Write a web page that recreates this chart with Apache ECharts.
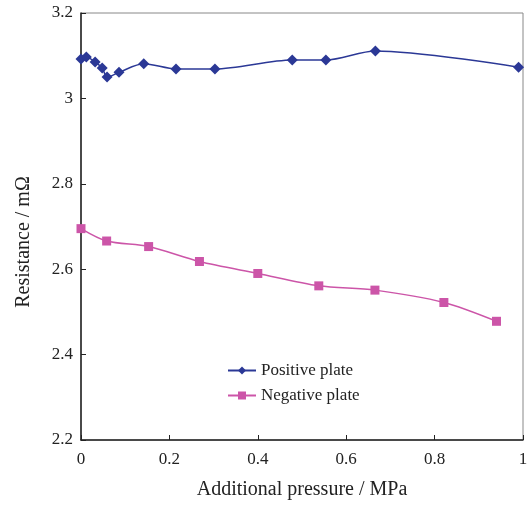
<!DOCTYPE html>
<html><head><meta charset="utf-8">
<script src="https://cdn.jsdelivr.net/npm/echarts@6/dist/echarts.min.js"></script>
<style>html,body{margin:0;padding:0;background:#fff}#c{width:531px;height:505px}</style>
</head><body><div id="c"></div>
<script>
const posX = [0, 0.012, 0.032, 0.048, 0.059, 0.086, 0.142, 0.215, 0.303, 0.478, 0.554, 0.666, 0.99];
const posY = [3.092, 3.097, 3.085, 3.071, 3.050, 3.061, 3.081, 3.069, 3.069, 3.090, 3.090, 3.111, 3.073];
const negX = [0, 0.058, 0.153, 0.268, 0.400, 0.538, 0.665, 0.821, 0.940];
const negY = [2.695, 2.666, 2.653, 2.618, 2.590, 2.561, 2.551, 2.522, 2.478];
const seriesNames = ["Positive plate", "Negative plate"];
const xTitle = "Additional pressure / MPa";
const yTitle = "Resistance / mΩ";

const font = "Liberation Serif";
const chart = echarts.init(document.getElementById('c'), null, {renderer: 'canvas'});
chart.setOption({
  animation: false,
  backgroundColor: '#fff',
  grid: {left: 81, right: 8, top: 13, bottom: 64, show: true, borderColor: '#888', borderWidth: 1},
  legend: {
    left: 222, top: 357, orient: 'vertical', itemGap: 8, itemWidth: 28, itemHeight: 10,
    textStyle: {fontFamily: font, fontSize: 17, color: '#222'},
    data: seriesNames
  },
  graphic: [{
    type: 'text', x: 24, y: 242, rotation: Math.PI / 2,
    style: {text: yTitle, fontFamily: font, fontSize: 20, fill: '#222', align: 'center', verticalAlign: 'middle'}
  }],
  xAxis: {
    type: 'value', min: 0, max: 1, interval: 0.2,
    name: xTitle, nameLocation: 'middle', nameGap: 40,
    nameTextStyle: {fontFamily: font, fontSize: 20, color: '#222'},
    axisLine: {lineStyle: {color: '#222', width: 1.5}},
    axisTick: {inside: true, length: 5, lineStyle: {color: '#222'}},
    axisLabel: {fontFamily: font, fontSize: 17, color: '#222', margin: 11},
    splitLine: {show: false}
  },
  yAxis: {
    type: 'value', min: 2.2, max: 3.2, interval: 0.2,
    axisLine: {show: true, lineStyle: {color: '#222', width: 1.5}},
    axisTick: {show: true, inside: true, length: 5, lineStyle: {color: '#222'}},
    axisLabel: {fontFamily: font, fontSize: 17, color: '#222', margin: 8,
      formatter: v => (Math.round(v * 10) / 10).toString()},
    splitLine: {show: false}
  },
  series: [
    {
      name: seriesNames[0], type: 'line', smooth: 0.3,
      data: posX.map((x, i) => [x, posY[i]]),
      symbol: 'diamond', symbolSize: 11,
      lineStyle: {color: '#2B3896', width: 1.5},
      itemStyle: {color: '#2B3896'}
    },
    {
      name: seriesNames[1], type: 'line', smooth: 0.3,
      data: negX.map((x, i) => [x, negY[i]]),
      symbol: 'rect', symbolSize: 9,
      lineStyle: {color: '#CC55A8', width: 1.5},
      itemStyle: {color: '#CC55A8'}
    }
  ]
});
</script></body></html>
